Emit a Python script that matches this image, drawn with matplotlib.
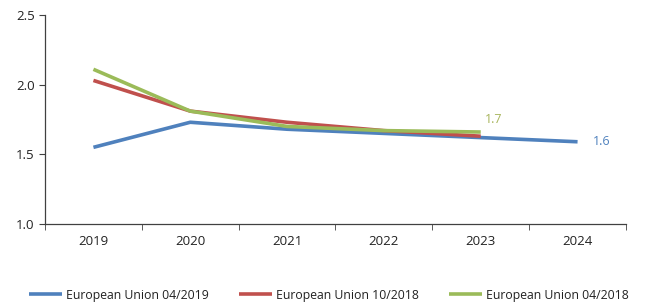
import matplotlib
matplotlib.use("Agg")
import matplotlib.pyplot as plt
import numpy as np

years = ["2019", "2020", "2021", "2022", "2023", "2024"]
eu_2019_04 = [1.55, 1.73, 1.68, 1.65, 1.62, 1.59]
eu_2018_10 = [2.03, 1.81, 1.73, 1.67, 1.63]
eu_2018_04 = [2.11, 1.81, 1.70, 1.67, 1.66]
series_names = ["European Union 04/2019", "European Union 10/2018", "European Union 04/2018"]
colors = ["#4F81BD", "#C0504D", "#9BBB59"]

plt.rcParams['font.family'] = ['Open Sans', 'DejaVu Sans']

fig = plt.figure(figsize=(6.45, 3.05), dpi=100)
ax = fig.add_axes([0.0698, 0.2656, 0.9007, 0.6854])

x = np.arange(len(years))
for vals, name, c in zip([eu_2019_04, eu_2018_10, eu_2018_04], series_names, colors):
    ax.plot(x[:len(vals)], vals, color=c, lw=2.6, label=name, solid_capstyle='butt')

ax.annotate(f"{eu_2018_04[-1]:.1f}", (x[len(eu_2018_04)-1], eu_2018_04[-1]),
            xytext=(3, 4), textcoords='offset points', color="#A8B55C", fontsize=9,
            va='bottom', ha='left')
ax.annotate(f"{eu_2019_04[-1]:.1f}", (x[-1], eu_2019_04[-1]),
            xytext=(11, 0), textcoords='offset points', color="#4F81BD", fontsize=9,
            va='center', ha='left')

ax.set_xlim(-0.5, len(years) - 0.5)
ax.set_ylim(1.0, 2.5)
ax.set_yticks([1.0, 1.5, 2.0, 2.5])
ax.set_yticklabels([f"{v:.1f}" for v in [1.0, 1.5, 2.0, 2.5]])
ax.set_xticks(x)
ax.set_xticklabels(years)
ax.set_xticks(np.arange(-0.5, len(years)), minor=True)
ax.tick_params(axis='x', which='major', length=0, pad=8, labelsize=9.5, labelcolor='#222222')
ax.tick_params(axis='x', which='minor', length=4, direction='out', color='#404040')
ax.tick_params(axis='y', length=4, direction='out', labelsize=9.5, color='#404040', labelcolor='#222222')
for s in ['top', 'right']:
    ax.spines[s].set_visible(False)
for s in ['left', 'bottom']:
    ax.spines[s].set_color('#404040')
    ax.spines[s].set_linewidth(0.9)

leg = fig.legend(loc='lower center', bbox_to_anchor=(0.51, -0.025), ncol=3, frameon=False,
                 fontsize=8.8, handlelength=2.7, handletextpad=0.3, columnspacing=2.5)
for t in leg.get_texts():
    t.set_color('#222222')

fig.savefig("out.png", dpi=100)
